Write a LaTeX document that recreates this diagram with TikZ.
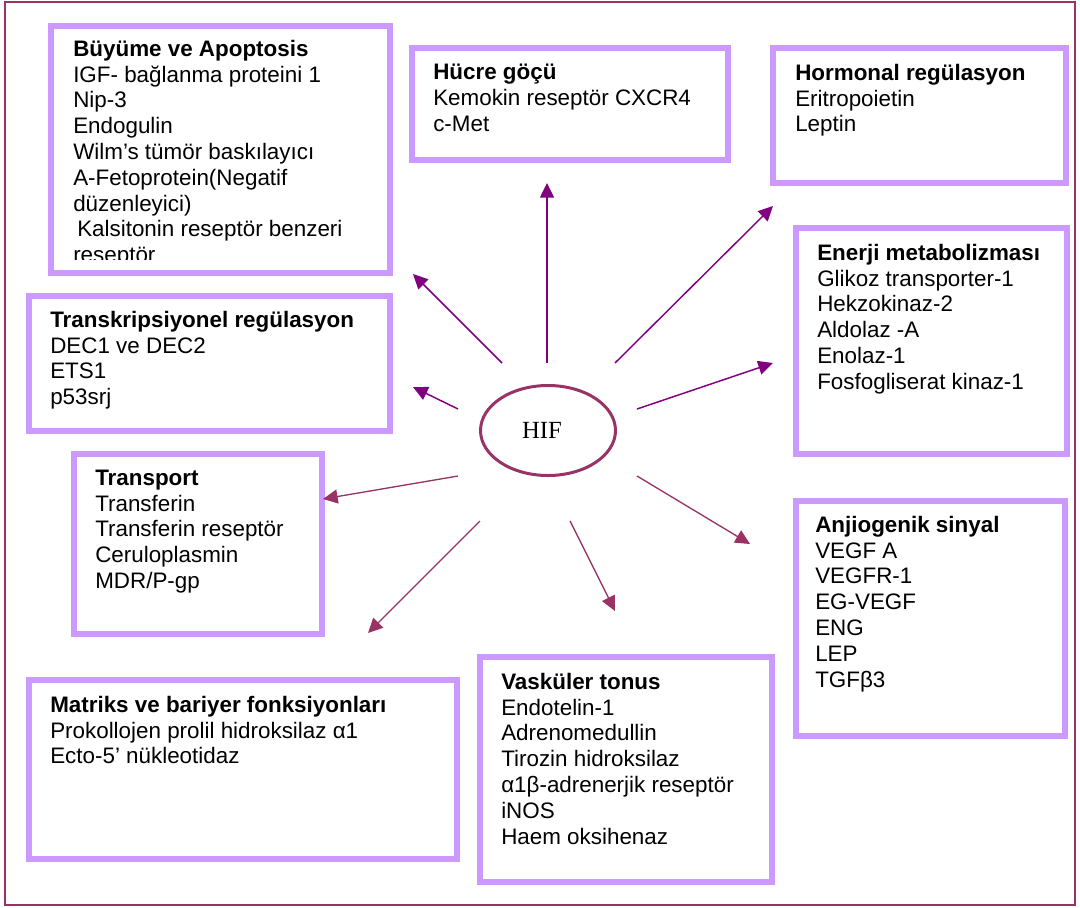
\documentclass[tikz,border=0pt]{standalone}
\usepackage{fontspec}
\setmainfont{Liberation Sans}
\newfontfamily\hiffont{Liberation Serif}
\usetikzlibrary{arrows.meta,shapes.geometric}
\definecolor{lila}{HTML}{CC99FF}
\definecolor{bordo}{HTML}{993366}
\definecolor{mor}{HTML}{800080}

\begin{document}
\begin{tikzpicture}[x=0.75pt, y=-0.75pt,
    grp/.style={rectangle, draw=lila, line width=4.5pt, anchor=north west, inner sep=0pt, outer sep=0pt},
    lst/.style={anchor=north west, align=left, inner sep=0pt, font=\fontsize{16.8}{19.35}\selectfont,
        execute at begin node={\rule{0pt}{13pt}}},
    upar/.style={-{Triangle[length=11pt, width=10.5pt]}, mor, line width=1.1pt},
    dnar/.style={-{Triangle[length=11pt, width=10.5pt]}, bordo, line width=1pt}
]
    \useasboundingbox (0,0) rectangle (1080,907);
    % outer frame
    \draw[bordo, line width=1.1pt] (5,2) rectangle (1075,905);

    % Group boxes
    \node[grp, minimum width=254.25pt, minimum height=185.25pt] (buyume) at (51,26) {};
    \node[grp, minimum width=237pt, minimum height=84pt] (hucre) at (412,48) {};
    \node[grp, minimum width=219.75pt, minimum height=101.25pt] (hormon) at (773,48) {};
    \node[grp, minimum width=203.25pt, minimum height=169.5pt] (enerji) at (796,228) {};
    \node[grp, minimum width=270.75pt, minimum height=101.25pt] (transkr) at (29,296) {};
    \node[grp, minimum width=186pt, minimum height=135pt] (transport) at (74,454) {};
    \node[grp, minimum width=201.75pt, minimum height=176.25pt] (anjio) at (796,501) {};
    \node[grp, minimum width=219pt, minimum height=168.75pt] (vaskuler) at (480,657) {};
    \node[grp, minimum width=321pt, minimum height=134.25pt] (matriks) at (29,680) {};

    % Box texts (top edge = title baseline - 17.3)
    \begin{scope}
    \clip (54,29) rectangle (387,259);
    \node[lst] (buyumetxt) at (73,39.7) {\textbf{Büyüme ve Apoptosis}\\IGF- bağlanma proteini 1\\Nip-3\\Endogulin\\Wilm’s tümör baskılayıcı\\A-Fetoprotein(Negatif\\düzenleyici)\\\hspace*{3pt}Kalsitonin reseptör benzeri\\reseptör};
    \end{scope}
    \node[lst] (hucretxt) at (433,63.7) {\textbf{Hücre göçü}\\Kemokin reseptör CXCR4\\c-Met};
    \node[lst] (hormontxt) at (795,63.7) {\textbf{Hormonal regülasyon}\\Eritropoietin\\Leptin};
    \node[lst] (enerjitxt) at (817,243.7) {\textbf{Enerji metabolizması}\\Glikoz transporter-1\\Hekzokinaz-2\\Aldolaz -A\\Enolaz-1\\Fosfogliserat kinaz-1};
    \node[lst] (transkrtxt) at (50,310.7) {\textbf{Transkripsiyonel regülasyon}\\DEC1 ve DEC2\\ETS1\\p53srj};
    \node[lst] (transporttxt) at (95,469.7) {\textbf{Transport}\\Transferin\\Transferin reseptör\\Ceruloplasmin\\MDR/P-gp};
    \node[lst] (anjiotxt) at (815,515.7) {\textbf{Anjiogenik sinyal}\\VEGF A\\VEGFR-1\\EG-VEGF\\ENG\\LEP\\TGFβ3};
    \node[lst] (vaskulertxt) at (501,672.7) {\textbf{Vasküler tonus}\\Endotelin-1\\Adrenomedullin\\Tirozin hidroksilaz\\α1β-adrenerjik reseptör\\iNOS\\Haem oksihenaz};
    \node[lst] (matrikstxt) at (50,695.7) {\textbf{Matriks ve bariyer fonksiyonları}\\Prokollojen prolil hidroksilaz α1\\Ecto-5’ nükleotidaz};

    % HIF
    \node[ellipse, draw=bordo, line width=2.25pt, minimum width=101.25pt, minimum height=67.5pt, inner sep=0pt,
          font=\hiffont\fontsize{18.5}{22}\selectfont] (hif) at (548,430.5) {HIF\hspace*{9pt}};

    % Arrow ends
    \coordinate (up0) at (547,363);  \coordinate (up1) at (547,183);
    \coordinate (ul0) at (502,363);  \coordinate (ul1) at (413,274);
    \coordinate (ur0) at (615,363);  \coordinate (ur1) at (773,206);
    \coordinate (rt0) at (637,409);  \coordinate (rt1) at (773,363);
    \coordinate (lt0) at (458,409);  \coordinate (lt1) at (413,387);
    \coordinate (tr0) at (458,476);  \coordinate (tr1) at (323,499);
    \coordinate (ll0) at (480,521);  \coordinate (ll1) at (368,633);
    \coordinate (dn0) at (570,521);  \coordinate (dn1) at (615,611);
    \coordinate (lr0) at (637,476);  \coordinate (lr1) at (750,544);

    \draw[upar] (up0) -- (up1);
    \draw[upar] (ul0) -- (ul1);
    \draw[upar] (ur0) -- (ur1);
    \draw[upar] (rt0) -- (rt1);
    \draw[upar] (lt0) -- (lt1);
    \draw[dnar] (tr0) -- (tr1);
    \draw[dnar] (ll0) -- (ll1);
    \draw[dnar] (dn0) -- (dn1);
    \draw[dnar] (lr0) -- (lr1);
\end{tikzpicture}
\end{document}
